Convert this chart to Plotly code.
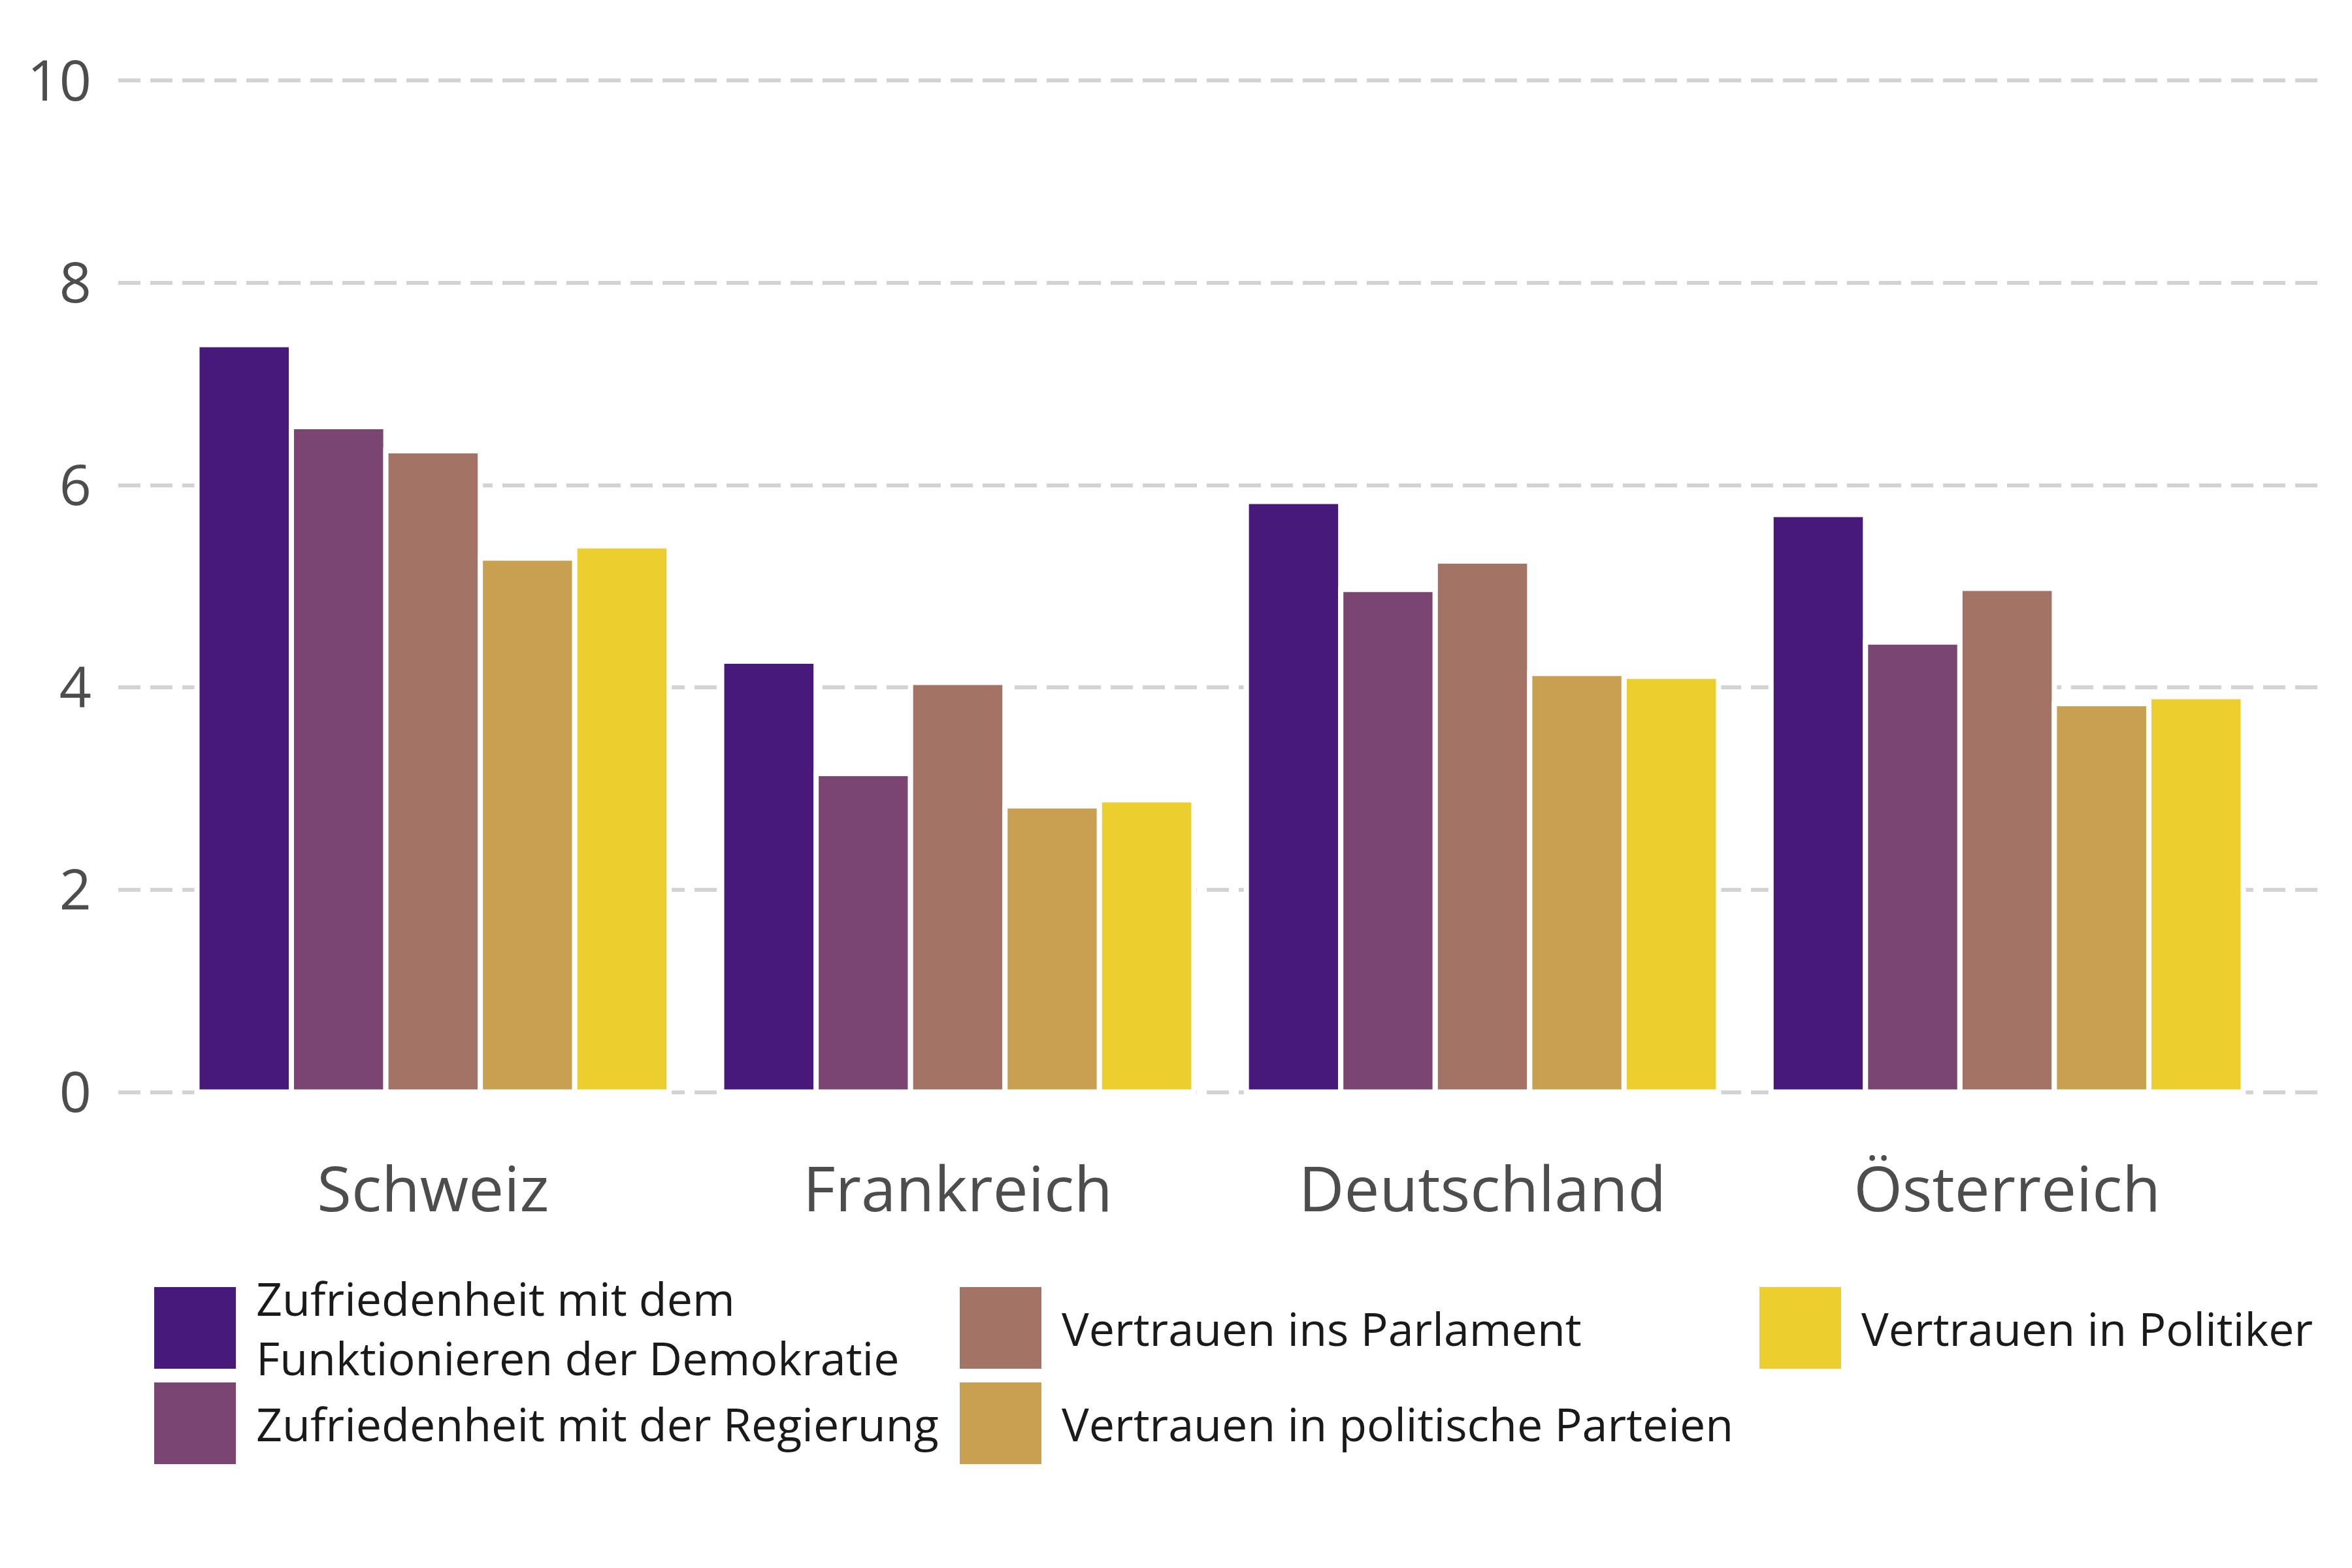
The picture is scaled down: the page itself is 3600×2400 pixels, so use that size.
import plotly.graph_objects as go

countries = ["Schweiz", "Frankreich", "Deutschland", "Österreich"]
series_names = [
    "Zufriedenheit mit dem Funktionieren der Demokratie",
    "Zufriedenheit mit der Regierung",
    "Vertrauen ins Parlament",
    "Vertrauen in politische Parteien",
    "Vertrauen in Politiker",
]
legend_labels = [
    "Zufriedenheit mit dem<br>Funktionieren der Demokratie",
    "Zufriedenheit mit der Regierung",
    "Vertrauen ins Parlament",
    "Vertrauen in politische Parteien",
    "Vertrauen in Politiker",
]
demokratie = [7.39, 4.26, 5.84, 5.71]
regierung = [6.58, 3.15, 4.97, 4.45]
parlament = [6.34, 4.05, 5.25, 4.98]
parteien = [5.28, 2.83, 4.14, 3.84]
politiker = [5.40, 2.89, 4.11, 3.91]
series_values = [demokratie, regierung, parlament, parteien, politiker]
colors = ["#46197A", "#7B4572", "#A37366", "#C9A052", "#ECCF2F"]
y_ticks = [0, 2, 4, 6, 8, 10]

# page has an 8px body margin; figure sized to fit the 3600x2400 window
OFF = 8
W, H = 3584, 2384
L, R, T, B = 173, 38, 38, 643
PW, PH = W - L - R, H - T - B


def px_x(px):
    return (px - OFF - L) / PW


def px_y(py):
    return (H - B - (py - OFF)) / PH


fig = go.Figure()
for name, vals, col in zip(series_names, series_values, colors):
    fig.add_trace(go.Bar(
        x=countries, y=vals, name=name,
        marker=dict(color=col, line=dict(color="white", width=8)),
        showlegend=False,
    ))

# manual legend (2 rows, filled column-wise)
key = 125
col_x = [236, 1469, 2693]
row_y = [1970, 2116]
shapes = []
annotations = []
for i, (lab, col) in enumerate(zip(legend_labels, colors)):
    c, r = i // 2, i % 2
    x0, y0 = col_x[c], row_y[r]
    shapes.append(dict(
        type="rect", xref="paper", yref="paper",
        x0=px_x(x0), x1=px_x(x0 + key), y0=px_y(y0 + key), y1=px_y(y0),
        fillcolor=col, line=dict(width=0), layer="above",
    ))
    annotations.append(dict(
        xref="paper", yref="paper", x=px_x(x0 + key + 29), y=px_y(y0 + key / 2),
        xanchor="left", yanchor="middle", align="left", showarrow=False,
        text=lab, font=dict(family="Open Sans", size=70, color="#1A1A1A"),
    ))

fig.update_layout(
    width=W, height=H,
    margin=dict(l=L, r=R, t=T, b=B, pad=0),
    paper_bgcolor="white", plot_bgcolor="white",
    barmode="group", bargap=0.1, bargroupgap=0,
    font=dict(family="Open Sans", color="#4D4D4D"),
    shapes=shapes, annotations=annotations,
    xaxis=dict(
        range=[-0.6, 3.6], showgrid=False, showline=False, zeroline=False,
        ticks="", tickfont=dict(size=96, color="#4D4D4D"), ticklabelstandoff=8,
    ),
    yaxis=dict(
        range=[-0.5, 10.5], tickvals=y_ticks, showline=False, zeroline=False,
        showgrid=True, gridcolor="#D3D3D3", gridwidth=6, griddash="34px,15px",
        ticks="", tickfont=dict(size=86, color="#4D4D4D"), ticklabelstandoff=40,
    ),
)

fig.write_html("out.html")
